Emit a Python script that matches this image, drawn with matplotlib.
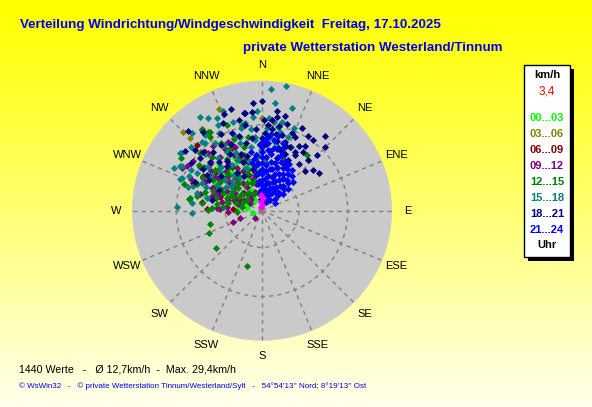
import numpy as np
import matplotlib
matplotlib.use("Agg")
import matplotlib.pyplot as plt
from matplotlib.patches import Rectangle

# ---- data: (direction deg, speed km/h) per time slot ----
R_MAX = 30.0
RINGS = [8.5, 19.8]
DIR_LABELS = ['N', 'NNE', 'NE', 'ENE', 'E', 'ESE', 'SE', 'SSE',
              'S', 'SSW', 'SW', 'WSW', 'W', 'WNW', 'NW', 'NNW']

slot_labels = ['00...03', '03...06', '06...09', '09...12',
               '12...15', '15...18', '18...21', '21...24']
slot_colors = ['#00ff00', '#808000', '#800000', '#800080',
               '#008000', '#008080', '#000080', '#0000ff']

lime = [(285, 13.9), (333, 13.7), (344, 13), (339, 10.9), (312, 6.2), (281, 3.5),
        (309, 3), (327, 3), (330, 5.6), (350, 6.6), (272, 5.8), (257, 2.1),
        (335, 15), (353, 9.5), (342, 10.7), (300, 7.5), (318, 8.8), (290, 6.8),
        (322, 11.2), (305, 4.5), (338, 7.9), (295, 9.2), (348, 4.2), (315, 12.3),
        (326, 6.9), (283, 8.4), (310, 10.3), (298, 11.8), (336, 9.4), (320, 3.9),
        (300, 12.6), (306, 9.6), (313, 11.8), (317, 14.5), (324, 9), (343, 6.9),
        (347, 8.8), (352, 12.3), (336, 4.9), (291, 3.7), (356, 4.9), (329, 12.2)]

olive = [(337, 25.5), (315, 25.7), (315.4, 23.7), (0, 21.4)]

maroon = [(317, 17), (316, 18.9), (272, 12.7), (274, 6.7), (296.6, 5.7), (292, 17.2),
          (315.4, 21.4), (315.5, 19), (300, 15.8), (310, 13.9), (325, 12.2), (288, 10.1)]

purple = [(301, 20.2), (305, 17.6), (278.5, 14), (274, 10.4), (276.5, 8.1), (252, 5.3),
          (225, 2.3), (292, 11.7), (297, 14.8), (322, 15.8), (317, 18.3), (319, 8.5),
          (313.5, 6), (304, 3.3), (249, 7.2), (268, 7.8), (273, 9.7), (298, 21),
          (334, 17.7), (334.5, 16.1), (307, 12.7), (294.7, 12.7), (32.5, 9), (19, 10.7),
          (323, 4.6), (290, 10.5), (295, 12.5), (300, 9.2), (305, 13.6), (310, 8.4),
          (315, 11.2), (320, 9.8), (325, 13.1), (330, 11.5), (335, 10.2), (340, 8.7),
          (345, 7.6), (288, 8.2), (296, 6.9), (303, 7.4), (311, 10.1), (318, 12.4),
          (326, 7.8), (333, 14.3), (341, 12.2), (286, 11.9), (299, 15.5), (308, 14.9),
          (314, 5.8), (328, 6.4), (282, 9.4), (338, 13.4), (350, 9.1),
          (285, 14.8), (294, 17.9), (306, 19.6), (312, 16.2), (323, 18.7), (329, 16.6),
          (337, 15.9), (344, 11.6), (348, 6.2), (353, 12.3), (356, 8.8), (285, 5.8),
          (291, 7), (316, 3.8), (300, 4.8), (340, 4.6)]

green = [(303, 22.3), (279, 17.1), (256, 12.4), (247.5, 13.3), (304, 11.7), (295, 9.9),
         (283, 8.1), (296, 7.4), (281, 4.7), (306, 4.3), (317.4, 11.6), (323.7, 9.7),
         (341, 10), (340, 6.9), (311, 14.4), (288, 13.9), (273, 11.6), (277.6, 14),
         (276, 9.1), (268, 5.8), (231, 13.6), (195, 13.2), (271, 12.5), (38.8, 16.6),
         (323.5, 23.3), (326.7, 21.8), (280, 16.9), (323.8, 23.5), (325.6, 22),
         (337.8, 21.4), (347.5, 20.3), (325, 20.9), (317, 17), (347, 20.4), (349, 17.4),
         (20, 13.3), (285, 11), (290, 8.6), (292, 12.3), (298, 10.8), (300, 6.2),
         (302, 13.2), (308, 9.1), (310, 11.9), (313, 7.6), (315, 13.8), (320, 8.2),
         (322, 12.6), (328, 10.4), (331, 7.3), (335, 12.8), (338, 9.1), (345, 7.2),
         (352, 8.6), (287, 6.3), (294, 4.9), (318, 5.2), (326, 14.5), (332, 16),
         (300, 15.6), (342, 13.5),
         (283, 15.3), (289, 19), (307, 16.8), (313, 19.6), (329, 18.3), (339, 17.8),
         (344, 15.3), (355, 12.8), (5, 11), (297, 8), (304, 8), (311, 6), (324, 5),
         (333, 4.2), (346, 4.2), (306, 17.9), (279, 10.6), (292, 16.2)]

teal = [(10.8, 29.4), (4.2, 28.2), (16.2, 24.8), (4.3, 21.5), (10.8, 19.7), (3.4, 19.2),
        (19.4, 18), (10.7, 16.2), (346.6, 19.9), (343.4, 17.8), (18, 14.8), (354, 16.5),
        (338.7, 24.8), (330, 24.8), (333, 22.3), (346, 19.7), (319, 21.1), (305, 23.2),
        (299, 21.1), (292, 20), (276.5, 16.3), (272.7, 19.7), (300, 17.4), (295, 15.3),
        (300, 12), (310, 11.1), (342, 16.5), (329, 15.7), (334, 13.1), (354.6, 17.1),
        (355, 12.5), (6, 17.2), (12.8, 18.7), (14, 15.2), (298.8, 21.6), (305.6, 23),
        (291, 20.3), (295.6, 18.7), (285.5, 15.6), (309, 16.1), (327, 12.7), (313, 13.2),
        (327, 9.3), (309, 8.9), (326.6, 26), (334, 23.9), (323, 21.9), (354.5, 21.8),
        (349, 20.7), (268, 16.2), (315, 18.5), (320, 15.8), (325, 19), (330, 17.4),
        (336, 14.6), (340, 18.3), (350, 15), (317, 13.9), (305, 14.3), (322, 10.6),
        (345, 11.8), (359, 13.9), (2, 15.6), (8, 20.6), (24, 16.2),
        (312, 22), (318, 24), (300, 19), (288, 18), (283, 13), (293, 14), (303, 10),
        (320, 20.5), (331, 20.6), (342, 21.5), (352, 19), (357, 23), (7, 25), (13, 21),
        (21, 20.5), (3, 12), (340, 10.5), (316, 9.6), (290, 17), (296, 22.6)]

navy = [(355, 25), (0, 25.4), (354, 22.9), (8.5, 23.3), (13.6, 22.5), (9, 22), (4, 19.9),
        (16, 20.7), (24, 18.7), (31.5, 20.3), (29.6, 17.3), (33.5, 18), (18.4, 16.8),
        (23.6, 16.1), (44.5, 18.1), (44.5, 20.7), (30.5, 15), (27, 13.2), (38, 13.8),
        (26.6, 11.9), (350, 23), (346, 21.6), (349, 20.2), (336, 22.2), (339, 19.3),
        (317, 25), (312, 20.9), (315, 19.2), (320, 17.7), (310.5, 18.8), (313, 16.5),
        (304, 19.8), (303, 15.2), (305, 16.6), (282, 11.8), (51, 15.1), (35, 16.6),
        (29, 15.6), (21, 19.3), (349.6, 23), (338.6, 24), (293, 16.8),
        (2, 18), (5, 17), (7, 19), (10, 18), (12, 16.5), (15, 18), (3, 15.5), (18, 14.5),
        (20, 16), (1, 21), (6, 21), (11, 20), (14, 15),
        (330, 15), (335, 17), (340, 14), (343, 18), (347, 16), (352, 17), (332, 20),
        (325, 14), (328, 18), (345, 13), (338, 12), (322, 13), (318, 15), (356, 19),
        (358, 15.5),
        (308, 22.5), (300, 14), (296, 11), (310, 12.5), (327, 10.5), (333, 9), (348, 9.8),
        (355, 11), (0, 16.8), (8, 14), (16, 12.6), (22, 14), (26, 21.3), (36, 20.2),
        (42, 15.8), (47, 13.5), (57, 15.8), (40, 22.5), (323, 22.8), (343, 24.6)]

blue = [(0, 2.1), (0, 3.4), (0, 4.6), (0, 5.9), (0, 7.2), (0, 8.4), (0, 9.7), (0, 11.0),
        (0, 12.3), (0, 13.5), (0, 14.6), (357, 2.8), (356, 4.9), (355, 6.8), (356, 8.9),
        (355, 10.8), (354, 12.9), (352, 4.1), (351, 6.2), (350, 8.3), (351, 10.4),
        (351, 12.1), (349, 13.8), (348, 11.2), (4, 2.6), (5, 4.2), (4, 5.7), (5, 7.4),
        (6, 9.1), (5, 10.6), (4, 12.4), (6, 14.1), (5, 15.6), (9, 3.3), (10, 4.9),
        (10, 6.6), (9, 8.2), (11, 9.9), (10, 11.5), (9, 13.2), (11, 14.8), (10, 16.6),
        (14, 3.1), (15, 4.8), (15, 6.5), (16, 8.1), (14, 9.8), (15, 11.4), (16, 13.0),
        (14, 14.7), (20, 3.9), (19, 5.6), (21, 7.2), (20, 8.9), (19, 10.5), (21, 12.1),
        (20, 13.8), (19, 15.2), (25, 4.2), (26, 5.9), (24, 7.6), (25, 9.3), (26, 10.9),
        (25, 12.6), (30, 4.7), (31, 6.4), (29, 8.1), (30, 9.7), (31, 11.3), (30, 12.5),
        (35, 5.3), (36, 7.0), (34, 8.7), (35, 10.3), (36, 11.6), (40, 5.6), (41, 7.4),
        (39, 9.1), (40, 10.6), (45, 5.2), (46, 7.1), (44, 8.8), (47, 9.8), (51, 6.1),
        (50, 7.9), (60, 3.5), (38, 3.0), (25, 2.3), (48, 4.0), (3, 16.8), (7, 17.9),
        (12, 17.6), (17, 16.4), (1, 15.9), (358, 15.2)]

latest = [(355, 2.1), (0, 1.4), (350, 0.8), (5, 3.0), (358, 3.6)]

groups = [lime, olive, maroon, purple, green, teal, navy, blue]

W, H = 592, 407
fig = plt.figure(figsize=(W / 100, H / 100), dpi=100)


def fx(px):
    return px / W


def fy(py):
    return 1 - py / H


# yellow gradient background
bg = fig.add_axes([0, 0, 1, 1])
t = np.linspace(0, 1, 256)[:, None]
grad = np.dstack([np.ones_like(t), np.ones_like(t), 0.93 * t ** 1.1])
bg.imshow(grad, aspect='auto', extent=[0, 1, 0, 1])
bg.axis('off')

cx, cy, rad = 262, 210.7, 130
ax = fig.add_axes([fx(cx - rad), fy(cy + rad), 2 * rad / W, 2 * rad / H], projection='polar')
ax.set_theta_zero_location('N')
ax.set_theta_direction(-1)
ax.set_ylim(0, R_MAX)
ax.set_facecolor('#cacaca')
ax.spines['polar'].set_visible(False)
ax.set_xticks(np.radians(np.arange(0, 360, 22.5)))
ax.set_xticklabels([])
ax.set_yticks(RINGS)
ax.set_yticklabels([])
ax.tick_params(length=0)
ax.grid(True, color='#808080', linestyle=(0, (3, 3)), linewidth=1)

for pts, col in zip(groups, slot_colors):
    d, s = zip(*pts)
    ax.scatter(np.radians(d), s, marker='D', s=13, c=col, linewidths=0, zorder=3)
d, s = zip(*latest)
ax.scatter(np.radians(d), s, marker='D', s=13, c='#ff00ff', linewidths=0, zorder=4)

for i, lab in enumerate(DIR_LABELS):
    ax.text(np.radians(i * 22.5), 33.6, lab, ha='center', va='center',
            fontsize=8, family='Liberation Sans', clip_on=False)

# titles
fig.text(fx(20), fy(25), 'Verteilung Windrichtung/Windgeschwindigkeit  Freitag, 17.10.2025',
         color='#0000ee', fontsize=9.6, fontweight='bold', family='Liberation Sans',
         va='center', ha='left')
fig.text(fx(243), fy(48), 'private Wetterstation Westerland/Tinnum',
         color='#0000ee', fontsize=9.6, fontweight='bold', family='Liberation Sans',
         va='center', ha='left')

# footer
fig.text(fx(19), fy(369), '1440 Werte   -   Ø 12,7km/h  -  Max. 29,4km/h',
         color='black', fontsize=7.7, family='Liberation Sans', va='center')
fig.text(fx(19), fy(386),
         "© WsWin32   -   © private Wetterstation Tinnum/Westerland/Sylt   -   "
         "54°54'13'' Nord; 8°19'13'' Ost",
         color='#0000ee', fontsize=5.8, family='Liberation Sans', va='center')

# legend box with shadow
bx0, by0, bx1, by1 = 524, 65, 570, 257
fig.add_artist(Rectangle((fx(bx0 + 4), fy(by1 + 4)), (bx1 - bx0) / W, (by1 - by0) / H,
                         transform=fig.transFigure, facecolor='black', edgecolor='none'))
fig.add_artist(Rectangle((fx(bx0), fy(by1)), (bx1 - bx0) / W, (by1 - by0) / H,
                         transform=fig.transFigure, facecolor='white', edgecolor='black',
                         linewidth=1))
lx = 547
fig.text(fx(lx), fy(75), 'km/h', ha='center', va='center', fontsize=8,
         fontweight='bold', family='Liberation Sans')
fig.text(fx(lx), fy(92), '3,4', ha='center', va='center', fontsize=8.5,
         color='red', family='Liberation Sans')
for i, (lab, col) in enumerate(zip(slot_labels, slot_colors)):
    fig.text(fx(lx), fy(118 + i * 16), lab, ha='center', va='center', fontsize=8,
             fontweight='bold', color=col, family='Liberation Sans')
fig.text(fx(lx), fy(245), 'Uhr', ha='center', va='center', fontsize=8,
         fontweight='bold', family='Liberation Sans')

fig.savefig('out.png', dpi=100)
